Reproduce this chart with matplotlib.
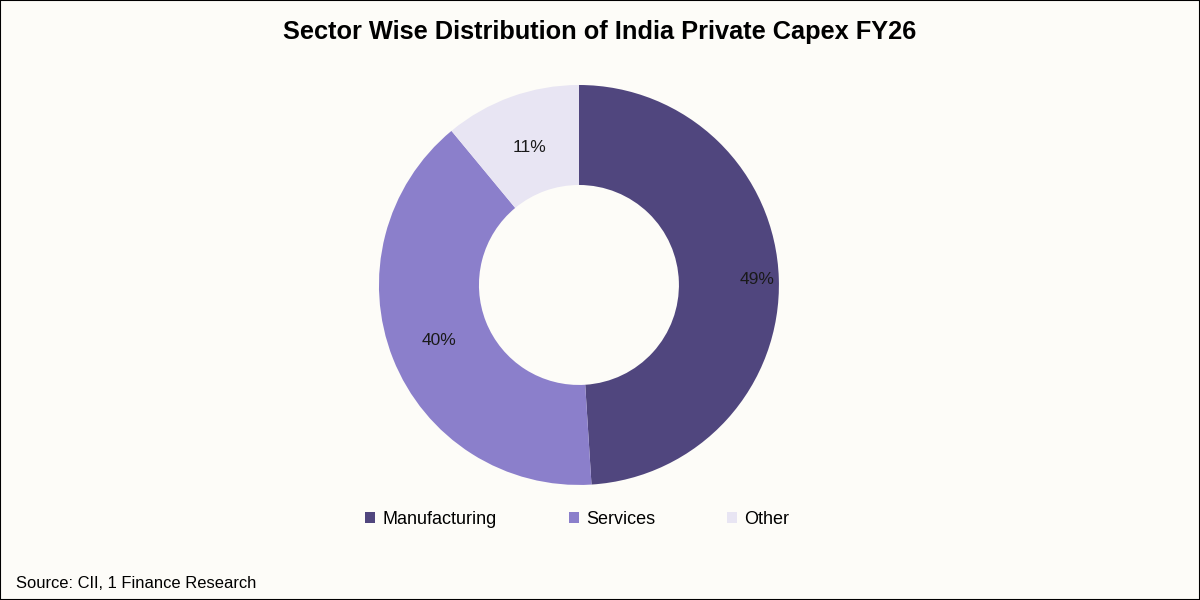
import numpy as np
import matplotlib.pyplot as plt
from matplotlib.patches import Rectangle

plt.rcParams['font.family'] = ['Liberation Sans', 'DejaVu Sans']

# data
sectors = ["Manufacturing", "Services", "Other"]
shares = [49, 40, 11]
colors = ["#50467E", "#8B7FCB", "#E8E5F3"]
label_radius = [0.89, 0.75, 0.73]

bg = "#FDFCF8"

fig = plt.figure(figsize=(12, 6), dpi=100, facecolor=bg)
fig.patches.append(Rectangle((0, 0), 1, 1, transform=fig.transFigure,
                             fill=False, edgecolor="black", linewidth=1.5))

ax = fig.add_axes([0.3158, 0.1917, 0.3333, 0.6667])
ax.set_facecolor(bg)
wedges, _ = ax.pie(shares, colors=colors, startangle=90, counterclock=False,
                   radius=1.0, wedgeprops=dict(width=0.5, linewidth=0))
ax.set_xlim(-1, 1)
ax.set_ylim(-1, 1)
ax.set_aspect('equal')

# percent labels
for w, val, r in zip(wedges, shares, label_radius):
    ang = np.deg2rad((w.theta1 + w.theta2) / 2)
    ax.text(r * np.cos(ang), r * np.sin(ang), f"{val}%", ha='center', va='center',
            fontsize=12.5, color="#1a1a1a")

fig.text(0.5, 0.947, "Sector Wise Distribution of India Private Capex FY26",
         ha='center', va='center', fontsize=18.3, fontweight='bold', color='black')

# legend
leg = fig.legend(wedges, sectors, loc='center', bbox_to_anchor=(0.481, 0.135),
                 ncol=3, frameon=False, fontsize=13, handlelength=0.55,
                 handleheight=0.55, handletextpad=0.4, columnspacing=4.0)

fig.text(0.013, 0.028, "Source: CII, 1 Finance Research", ha='left', va='center',
         fontsize=11.9, color='black')

fig.savefig("out.png", dpi=100, facecolor=bg)
